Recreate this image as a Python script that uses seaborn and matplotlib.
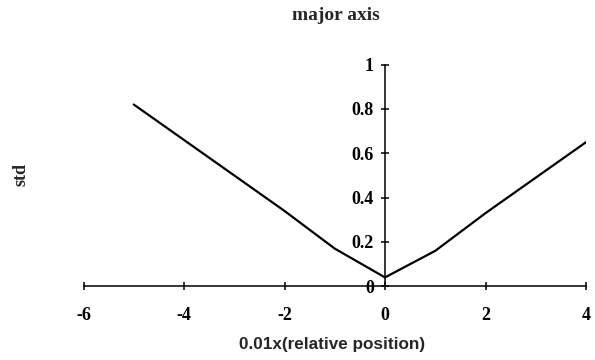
import matplotlib
matplotlib.use("Agg")
import matplotlib.pyplot as plt
import seaborn as sns
import pandas as pd

# ---- data ----
x_pos = [-5, -4, -3, -2, -1, 0, 1, 2, 3, 4]
std_vals = [0.82, 0.66, 0.50, 0.34, 0.17, 0.04, 0.16, 0.33, 0.49, 0.65]
x_ticks = [-6, -4, -2, 0, 2, 4]
x_tick_labels = ["-6", "-4", "-2", "0", "2", "4"]
y_ticks = [0, 0.2, 0.4, 0.6, 0.8, 1]
y_tick_labels = ["0", "0.2", "0.4", "0.6", "0.8", "1"]
title_text = "major axis"
xlabel_text = "0.01x(relative position)"
ylabel_text = "std"

sns.set_style("white")
plt.rcParams['font.family'] = ['Liberation Serif', 'DejaVu Serif']

df = pd.DataFrame({"x": x_pos, "std": std_vals})

W, H = 595, 360
fig = plt.figure(figsize=(W / 100, H / 100), dpi=100)
x0, x1 = 83.5, 586.0
y0, y1 = 286.3, 64.6
ax = fig.add_axes([x0 / W, 1 - y0 / H, (x1 - x0) / W, (y0 - y1) / H])
ax.patch.set_alpha(0)

sns.lineplot(data=df, x="x", y="std", ax=ax, color="black", linewidth=1.6)

ax.set_xlim(-6, 4)
ax.set_ylim(0, 1)
ax.spines['left'].set_position(('data', 0))
ax.spines['right'].set_visible(False)
ax.spines['top'].set_visible(False)
for s in ('left', 'bottom'):
    ax.spines[s].set_color('black')
    ax.spines[s].set_linewidth(1.1)

ax.set_xticks(x_ticks)
ax.set_xticklabels(x_tick_labels, fontweight='bold', fontsize=13)
ax.set_yticks(y_ticks)
ax.set_yticklabels(y_tick_labels, fontweight='bold', fontsize=13)
ax.tick_params(axis='x', bottom=True, direction='inout', length=6, width=1.1,
               colors='black', pad=12)
ax.tick_params(axis='y', left=True, direction='inout', length=6, width=1.1,
               colors='black', pad=5)
ax.set_xlabel("")
ax.set_ylabel("")

fig.text(335.5 / W, 1 - 15 / H, title_text, ha='center', va='center',
         fontsize=14, fontweight='bold', family=['Liberation Serif'])
fig.text(332.5 / W, 1 - 344 / H, xlabel_text, ha='center', va='center',
         fontsize=12.3, fontweight='bold', family=['Liberation Sans'])
fig.text(20.5 / W, 1 - 174 / H, ylabel_text, ha='center', va='center',
         rotation=90, fontsize=13, fontweight='bold', family=['Liberation Serif'])

fig.savefig("out.png", dpi=100)
